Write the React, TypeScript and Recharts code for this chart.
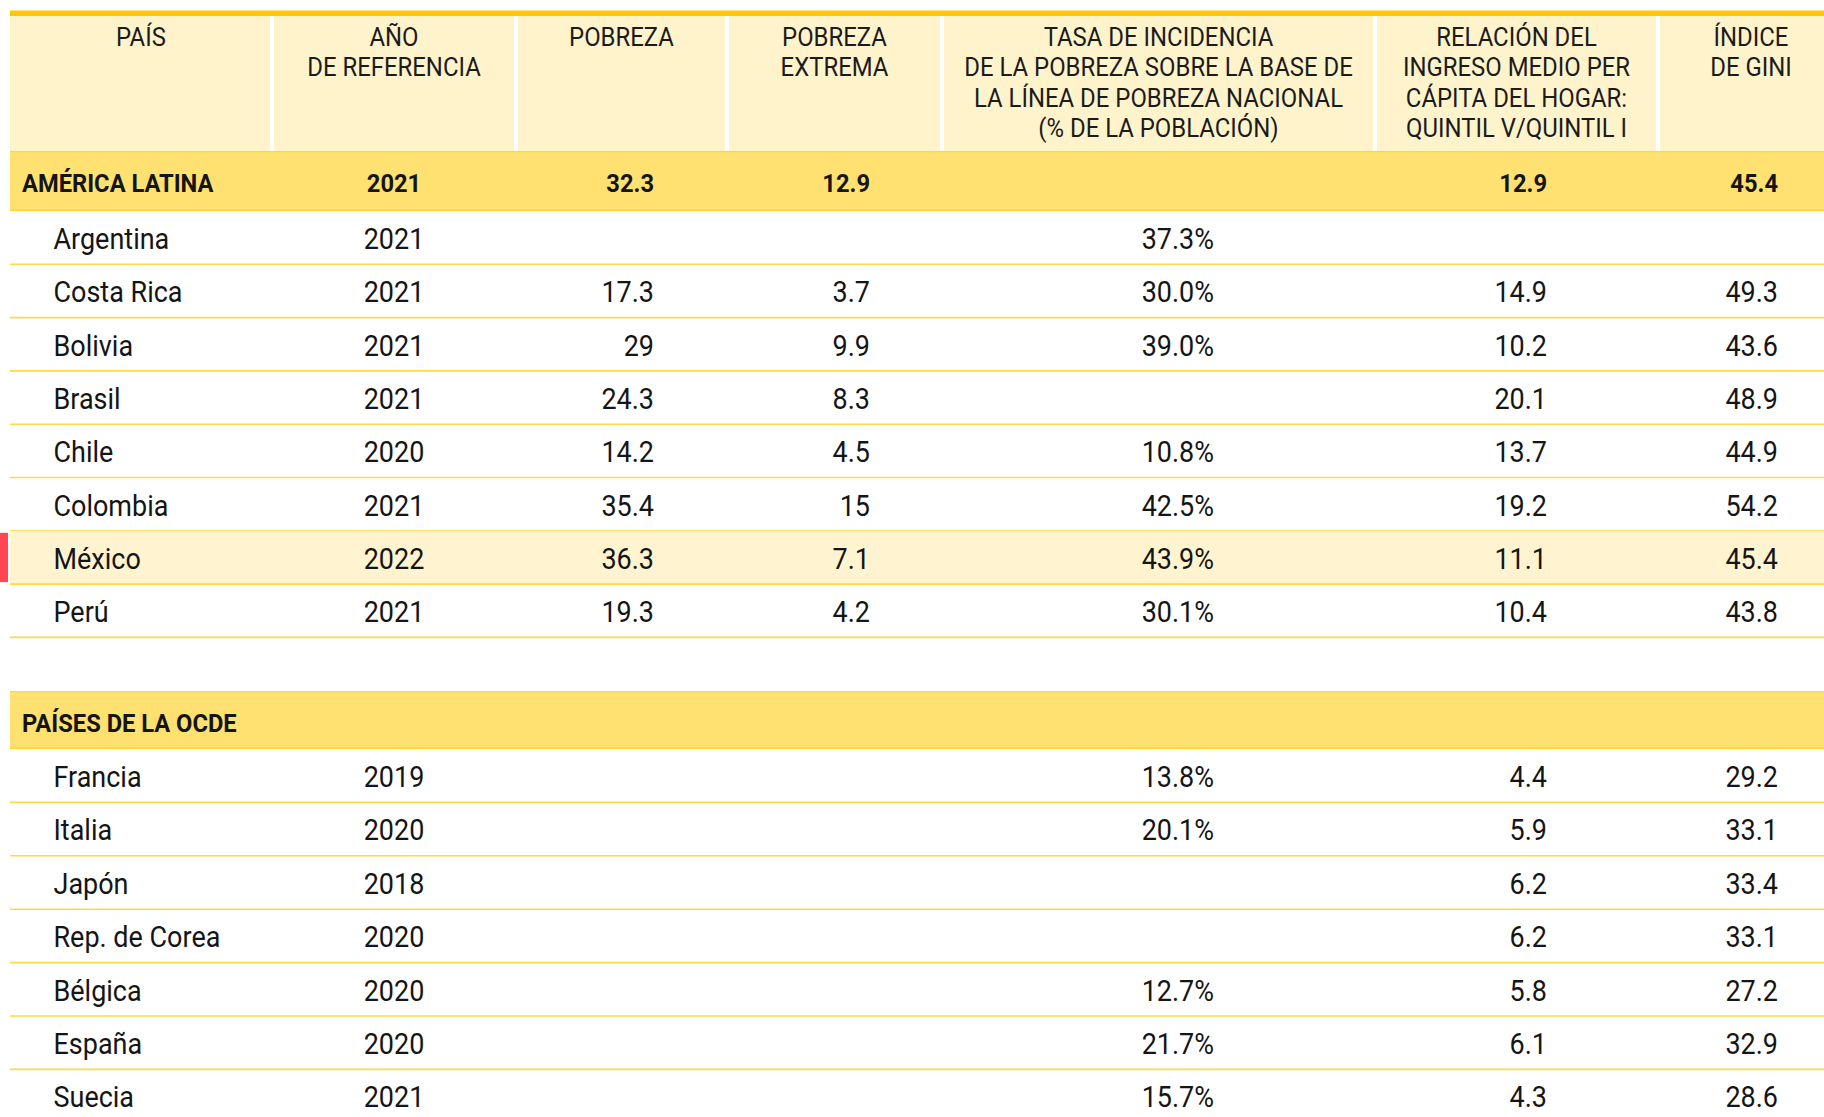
import React from 'react';
import { ReferenceArea, Scatter, ScatterChart, XAxis, YAxis } from 'recharts';

// ---- data ----
const headers = [
  ['PAÍS'],
  ['AÑO', 'DE REFERENCIA'],
  ['POBREZA'],
  ['POBREZA', 'EXTREMA'],
  ['TASA DE INCIDENCIA', 'DE LA POBREZA SOBRE LA BASE DE', 'LA LÍNEA DE POBREZA NACIONAL', '(% DE LA POBLACIÓN)'],
  ['RELACIÓN DEL', 'INGRESO MEDIO PER', 'CÁPITA DEL HOGAR:', 'QUINTIL V/QUINTIL I'],
  ['ÍNDICE', 'DE GINI'],
];

const groupLabels = ['AMÉRICA LATINA', 'PAÍSES DE LA OCDE'];
// year, pobreza, pobreza extrema, tasa, relación, gini
const latamTotals = [2021, 32.3, 12.9, null, 12.9, 45.4];

const latamCountries = ['Argentina', 'Costa Rica', 'Bolivia', 'Brasil', 'Chile', 'Colombia', 'México', 'Perú'];
const latamYears = [2021, 2021, 2021, 2021, 2020, 2021, 2022, 2021];
const latamPobreza = [null, 17.3, 29, 24.3, 14.2, 35.4, 36.3, 19.3];
const latamExtrema = [null, 3.7, 9.9, 8.3, 4.5, 15, 7.1, 4.2];
const latamTasa = [37.3, 30.0, 39.0, null, 10.8, 42.5, 43.9, 30.1];
const latamRelacion = [null, 14.9, 10.2, 20.1, 13.7, 19.2, 11.1, 10.4];
const latamGini = [null, 49.3, 43.6, 48.9, 44.9, 54.2, 45.4, 43.8];

const ocdeCountries = ['Francia', 'Italia', 'Japón', 'Rep. de Corea', 'Bélgica', 'España', 'Suecia'];
const ocdeYears = [2019, 2020, 2018, 2020, 2020, 2020, 2021];
const ocdeTasa = [13.8, 20.1, null, null, 12.7, 21.7, 15.7];
const ocdeRelacion = [4.4, 5.9, 6.2, 6.2, 5.8, 6.1, 4.3];
const ocdeGini = [29.2, 33.1, 33.4, 33.1, 27.2, 32.9, 28.6];

const highlighted = 'México';

// ---- layout ----
const W = 1824;
const H = 1117;
const LEFT = 10;
const HEADER_TOP = 16;
const HEADER_BOTTOM = 151;
const ROW_H = 53.3;

const COLS = [
  { left: LEFT, right: 272, head: 141, text: 53.5, anchor: 'start' },
  { left: 272, right: 516, head: 394, text: 394, anchor: 'middle' },
  { left: 516, right: 727, head: 621.5, text: 654, anchor: 'end' },
  { left: 727, right: 942, head: 834.5, text: 870, anchor: 'end' },
  { left: 942, right: 1375, head: 1158.5, text: 1214, anchor: 'end' },
  { left: 1375, right: 1658, head: 1516.5, text: 1547, anchor: 'end' },
  { left: 1658, right: W, head: 1751, text: 1778, anchor: 'end' },
];

const FONT = 'Roboto, "Noto Sans", sans-serif';

const num = (v: number | null) => (v == null ? null : String(v));
const one = (v: number | null) => (v == null ? null : v.toFixed(1));
const pct = (v: number | null) => (v == null ? null : `${v.toFixed(1)}%`);

type Row = { kind: 'band' | 'row'; top: number; h: number; cells: (string | null)[]; mark?: boolean };

const rows: Row[] = [];
let cursor = HEADER_BOTTOM;
rows.push({
  kind: 'band',
  top: cursor,
  h: 60,
  cells: [
    groupLabels[0],
    num(latamTotals[0]),
    one(latamTotals[1]),
    one(latamTotals[2]),
    pct(latamTotals[3]),
    one(latamTotals[4]),
    one(latamTotals[5]),
  ],
});
cursor += 60;
latamCountries.forEach((c, i) => {
  rows.push({
    kind: 'row',
    top: cursor,
    h: ROW_H,
    mark: c === highlighted,
    cells: [c, num(latamYears[i]), num(latamPobreza[i]), num(latamExtrema[i]), pct(latamTasa[i]), one(latamRelacion[i]), one(latamGini[i])],
  });
  cursor += ROW_H;
});
cursor += 53.6;
rows.push({ kind: 'band', top: cursor, h: 58, cells: [groupLabels[1], null, null, null, null, null, null] });
cursor += 58;
ocdeCountries.forEach((c, i) => {
  rows.push({
    kind: 'row',
    top: cursor,
    h: 53.4,
    cells: [c, num(ocdeYears[i]), null, null, pct(ocdeTasa[i]), one(ocdeRelacion[i]), one(ocdeGini[i])],
  });
  cursor += 53.4;
});

const headerPoints = headers.map((lines, i) => ({ x: COLS[i].head, y: 46, lines }));

const cellSeries = COLS.map((col, ci) =>
  rows
    .filter((r) => r.cells[ci] != null)
    .map((r) => ({
      x: ci === 0 && r.kind === 'band' ? 22 : col.text,
      y: r.top + (r.kind === 'band' ? 41 : 38),
      text: r.cells[ci],
      bold: r.kind === 'band',
      anchor: col.anchor,
    })),
);

const HeaderShape = (props: any) => {
  const { cx, cy, payload } = props;
  return (
    <g transform={`translate(${cx},${cy}) scale(0.92,1)`}>
      {payload.lines.map((line: string, i: number) => (
        <text key={i} x={0} y={i * 30.5} textAnchor="middle" fontFamily={FONT} fontSize={26} fill="#1b1b1b">
          {line}
        </text>
      ))}
    </g>
  );
};

const CellShape = (props: any) => {
  const { cx, cy, payload } = props;
  return (
    <g transform={`translate(${cx},${cy}) scale(0.93,1)`}>
      <text
        x={0}
        y={0}
        textAnchor={payload.anchor}
        fontFamily={FONT}
        fontSize={payload.bold ? 25.5 : 29}
        fontWeight={payload.bold ? 700 : 400}
        fill="#151515"
      >
        {payload.text}
      </text>
    </g>
  );
};

export default function App() {
  return (
    <div style={{ position: 'absolute', left: 0, top: 0, width: W, height: H, background: '#fff' }}>
      <ScatterChart width={W} height={H} margin={{ top: 0, right: 0, bottom: 0, left: 0 }}>
        <XAxis type="number" dataKey="x" domain={[0, W]} allowDataOverflow hide />
        <YAxis type="number" dataKey="y" domain={[0, H]} allowDataOverflow reversed hide />

        {/* top rule and header cells */}
        <ReferenceArea x1={LEFT} x2={W} y1={10.5} y2={HEADER_TOP} fill="#FFC800" fillOpacity={1} stroke="none" />
        {COLS.map((c, i) => (
          <ReferenceArea
            key={`h${i}`}
            x1={i === 0 ? c.left : c.left + 2}
            x2={i === COLS.length - 1 ? c.right : c.right - 2}
            y1={HEADER_TOP}
            y2={HEADER_BOTTOM}
            fill="#FFF3CC"
            fillOpacity={1}
            stroke="none"
          />
        ))}

        {/* row backgrounds and rules */}
        {rows.map((r, i) =>
          r.kind === 'band' ? (
            <React.Fragment key={`b${i}`}>
              <ReferenceArea x1={LEFT} x2={W} y1={r.top} y2={r.top + r.h} fill="#FFE172" fillOpacity={1} stroke="none" />
              <ReferenceArea x1={LEFT} x2={W} y1={r.top} y2={r.top + 1.2} fill="#FFD640" fillOpacity={1} stroke="none" />
              <ReferenceArea x1={LEFT} x2={W} y1={r.top + r.h - 1.5} y2={r.top + r.h} fill="#FFD430" fillOpacity={1} stroke="none" />
            </React.Fragment>
          ) : (
            <React.Fragment key={`r${i}`}>
              {r.mark && (
                <>
                  <ReferenceArea x1={LEFT} x2={W} y1={r.top} y2={r.top + r.h} fill="#FFF4CF" fillOpacity={1} stroke="none" />
                  <ReferenceArea x1={0} x2={8} y1={r.top + 2} y2={r.top + r.h - 2} fill="#FF4655" fillOpacity={1} stroke="none" />
                </>
              )}
              <ReferenceArea
                x1={LEFT}
                x2={W}
                y1={r.top + r.h - 0.8}
                y2={r.top + r.h + 0.8}
                fill="#FFD84A"
                fillOpacity={1}
                stroke="none"
              />
            </React.Fragment>
          ),
        )}

        <Scatter name="header" data={headerPoints} shape={HeaderShape} isAnimationActive={false} />
        {cellSeries.map((d, i) => (
          <Scatter key={`c${i}`} name={`col${i}`} data={d} shape={CellShape} isAnimationActive={false} />
        ))}
      </ScatterChart>
    </div>
  );
}
